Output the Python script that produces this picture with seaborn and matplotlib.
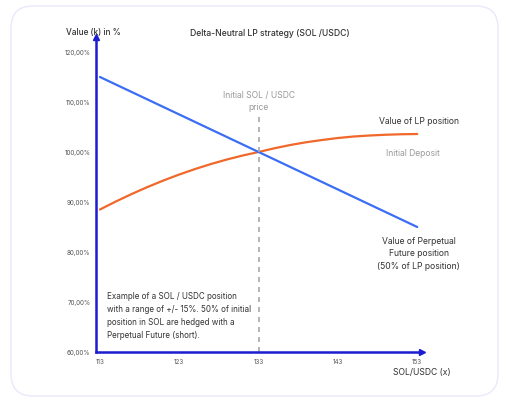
import numpy as np
import pandas as pd
import seaborn as sns
import matplotlib
matplotlib.use("Agg")
import matplotlib.pyplot as plt
from matplotlib.patches import FancyBboxPatch

# data
price = [113, 115, 117, 119, 121, 123, 125, 127, 129, 131, 133,
         135, 137, 139, 141, 143, 145, 147, 149, 151, 153]
lp_value = [88.5, 90.1, 91.6, 93.0, 94.3, 95.5, 96.6, 97.6, 98.5, 99.3, 100.0,
            100.75, 101.4, 101.95, 102.4, 102.8, 103.1, 103.3, 103.45, 103.55, 103.6]
perp_value = [115.0, 113.5, 112.0, 110.5, 109.0, 107.5, 106.0, 104.5, 103.0, 101.5, 100.0,
              98.5, 97.0, 95.5, 94.0, 92.5, 91.0, 89.5, 88.0, 86.5, 85.0]
x_ticks = [113, 123, 133, 143, 153]
y_ticks = [60, 70, 80, 90, 100, 110, 120]
y_labels = ["60,00%", "70,00%", "80,00%", "90,00%", "100,00%", "110,00%", "120,00%"]
initial_price = 133

df = pd.DataFrame({
    "price": price * 2,
    "value": lp_value + perp_value,
    "series": ["LP"] * len(price) + ["Perp"] * len(price),
})

sns.set_theme(style="white")
plt.rcParams['font.family'] = ['Inter', 'DejaVu Sans']

fig = plt.figure(figsize=(5.08, 4.10), dpi=100)
fig.patch.set_facecolor("white")

# card background
card = FancyBboxPatch((11, 13), 487, 390, boxstyle="round,pad=0,rounding_size=22",
                      transform=None, facecolor="white", edgecolor="#e9e9fc", lw=1, zorder=-5)
fig.patches.append(card)

ax = fig.add_axes([96 / 508, 57 / 410, 326 / 508, 315 / 410])
ax.set_facecolor("none")

sns.lineplot(data=df, x="price", y="value", hue="series",
             palette={"LP": "#f0682a", "Perp": "#3b6ef5"},
             linewidth=1.6, legend=False, ax=ax)

ax.plot([initial_price, initial_price], [60, 107.5], ls=(0, (3, 3)), color="#a8a8a8", lw=1.2)

ax.set_xlim(112.5, 153.6)
ax.set_ylim(60, 123)
ax.set_xticks(x_ticks)
ax.set_xticklabels([str(v) for v in x_ticks], fontsize=4.5, color="#555555")
ax.set_yticks(y_ticks)
ax.set_yticklabels(y_labels, fontsize=4.5, color="#555555")
ax.tick_params(length=0, pad=4)
ax.set_xlabel("")
ax.set_ylabel("")

for s in ["top", "right"]:
    ax.spines[s].set_visible(False)
for s in ["left", "bottom"]:
    ax.spines[s].set_color("#1c1cd0")
    ax.spines[s].set_linewidth(1.8)
ax.plot(1, 0, ">", color="#1c1cd0", ms=4, transform=ax.transAxes, clip_on=False)
ax.plot(0, 1, "^", color="#1c1cd0", ms=4, transform=ax.transAxes, clip_on=False)

dark = "#333333"
gray = "#9a9a9a"
fs = 6.2
fig.text(270 / 508, 1 - 33 / 410, "Delta-Neutral LP strategy (SOL /USDC)", ha="center", va="center",
         fontsize=fs, color=dark, fontweight="medium")
fig.text(93 / 508, 1 - 33 / 410, "Value (k) in %", ha="center", va="center",
         fontsize=5.9, color=dark, fontweight="medium")
fig.text(422 / 508, 1 - 373 / 410, "SOL/USDC (x)", ha="center", va="center", fontsize=fs, color=dark)

ax.text(initial_price, 110.3, "Initial SOL / USDC\nprice", ha="center", va="center",
        fontsize=fs, color=gray, linespacing=1.5)
ax.text(153.2, 106.2, "Value of LP position", ha="center", va="center", fontsize=fs, color=dark)
ax.text(152.4, 99.8, "Initial Deposit", ha="center", va="center", fontsize=fs, color=gray)
ax.text(153.2, 79.8, "Value of Perpetual\nFuture position\n(50% of LP position)", ha="center",
        va="center", fontsize=fs, color=dark, linespacing=1.45)
ax.text(113.9, 67.4, "Example of a SOL / USDC position\nwith a range of +/- 15%. 50% of initial\n"
        "position in SOL are hedged with a\nPerpetual Future (short).", ha="left", va="center",
        fontsize=5.8, color=dark, linespacing=1.55)

fig.savefig("out.png", dpi=100, facecolor="white")
